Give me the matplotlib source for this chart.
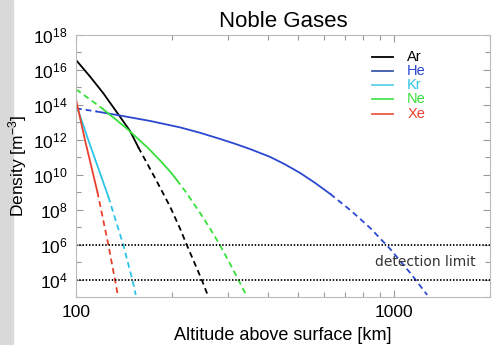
import numpy as np
import matplotlib
matplotlib.use("Agg")
import matplotlib.pyplot as plt
from matplotlib.patches import Rectangle
from matplotlib.ticker import FixedLocator, NullFormatter

plt.rcParams['font.family'] = ['Liberation Sans', 'DejaVu Sans']
plt.rcParams['mathtext.default'] = 'regular'

gases = ["Ar", "He", "Kr", "Ne", "Xe"]
colors = ["#000000", "#2a48d0", "#2cc4e6", "#36e03a", "#e8402c"]
legend_colors = ["#000000", "#3a5aa8", "#5fd0e8", "#4ce35a", "#ec5a48"]

# altitude [km] and log10 density [m^-3]
ar_alt = [100, 110.7, 121.9, 137.5, 147.9, 157.0, 177.2, 197.6, 212.4, 222.9,
          248.5, 259.2]
ar_log = [16.57, 15.62, 14.66, 13.32, 12.50, 11.57, 9.81, 8.17, 6.91, 5.98,
          3.98, 3.12]
he_alt = [100, 116.2, 137.5, 170.9, 212.4, 245.5, 283.7, 316.2, 352.5, 407.4,
          454.2, 506.3, 564.3, 629.4, 676.5, 727, 781.8, 840.6, 903.6, 971.4,
          1044.4, 1122.6, 1194.0, 1269.6]
he_log = [13.80, 13.62, 13.39, 13.08, 12.71, 12.40, 12.05, 11.77, 11.47, 11.02,
          10.59, 10.10, 9.53, 8.90, 8.44, 7.98, 7.47, 6.95, 6.35, 5.75,
          5.06, 4.38, 3.75, 3.12]
kr_alt = [100, 109.3, 126.4, 140.8, 150.4, 154.1]
kr_log = [14.05, 11.99, 8.74, 5.98, 3.98, 3.12]
ne_alt = [100, 110.7, 121.6, 132.6, 144.3, 168.4, 183.7, 197.6, 207.3, 220.2,
          245.5, 263.9, 283.7, 302.8, 323.9, 342.5]
ne_log = [14.89, 14.31, 13.76, 13.20, 12.65, 11.53, 10.82, 10.18, 9.70, 9.07,
          7.81, 6.91, 5.96, 5.00, 3.98, 3.12]
xe_alt = [100, 106.7, 116.7, 126.4, 132.6, 135.3]
xe_log = [14.32, 11.99, 9.03, 5.98, 3.98, 3.12]

# altitude range covered by the model (solid), outside it extrapolated (dashed)
solid_lo = [100, 116.2, 100, 121.6, 100]
solid_hi = [157.0, 629.4, 126.4, 207.3, 116.7]

detection_limits = [1e6, 1e4]

alts = [ar_alt, he_alt, kr_alt, ne_alt, xe_alt]
logs = [ar_log, he_log, kr_log, ne_log, xe_log]

fig = plt.figure(figsize=(4.98, 3.45), dpi=100)
fig.patches.append(Rectangle((0, 0), 13 / 498, 1, transform=fig.transFigure,
                             color="#d9d9d9", zorder=-1))
ax = fig.add_axes([76 / 498, 48 / 345, 414 / 498, 262 / 345])

dash = (0, (3.2, 2.2))
for name, c, a, l, lo, hi in zip(gases, colors, alts, logs, solid_lo, solid_hi):
    a = np.array(a)
    d = 10 ** np.array(l)
    s = (a >= lo) & (a <= hi)
    ax.plot(a[s], d[s], color=c, lw=1.3)
    lower = a <= lo
    upper = a >= hi
    if lower.sum() > 1:
        ax.plot(a[lower], d[lower], color=c, lw=1.3, ls=dash)
    if upper.sum() > 1:
        ax.plot(a[upper], d[upper], color=c, lw=1.3, ls=dash)

# legend drawn by hand (lines and coloured names)
for i, (name, c, lc) in enumerate(zip(gases, colors, legend_colors)):
    y = 0.916 - 0.054 * i
    ax.plot([0.715, 0.766], [y, y], color=lc, lw=1.3, transform=ax.transAxes)
    ax.text(0.80, y, name, color=c, fontsize=10.5, va="center", ha="left",
            transform=ax.transAxes)

for y in detection_limits:
    ax.axhline(y, color="black", lw=1.3, ls=(0, (0.8, 1.0)))
ax.text(0.843, 0.134, "detection limit", transform=ax.transAxes,
        ha="center", va="center", fontsize=10, color="#333333",
        family="DejaVu Sans")

ax.set_xscale("log")
ax.set_yscale("log")
ax.set_xlim(100, 2000)
ax.set_ylim(1e3, 1e18)

ax.xaxis.set_major_locator(FixedLocator([100, 1000]))
ax.set_xticklabels(["100", "1000"])
ax.xaxis.set_minor_locator(FixedLocator([200, 300, 400, 500, 600, 700, 800, 900, 2000]))
ax.xaxis.set_minor_formatter(NullFormatter())
yt = [10.0 ** p for p in range(4, 19, 2)]
ax.yaxis.set_major_locator(FixedLocator(yt))
ax.set_yticklabels(["$10^{%d}$" % p for p in range(4, 19, 2)])
ax.yaxis.set_minor_locator(FixedLocator([10.0 ** p for p in range(3, 19)]))
ax.yaxis.set_minor_formatter(NullFormatter())

ax.tick_params(which="both", direction="in", top=True, right=True,
               color="#999999", labelsize=12.5)
ax.tick_params(which="major", length=5, width=0.8, pad=6)
ax.tick_params(which="minor", length=3.5, width=0.8)
for sp in ax.spines.values():
    sp.set_color("#bbbbbb")
    sp.set_linewidth(0.8)

ax.set_title("Noble Gases", fontsize=16, pad=6)
ax.set_xlabel("Altitude above surface [km]", fontsize=13, labelpad=5)
ax.set_ylabel("Density [m$^{-3}$]", fontsize=12.5, labelpad=3)

fig.savefig("out.png", dpi=100)
